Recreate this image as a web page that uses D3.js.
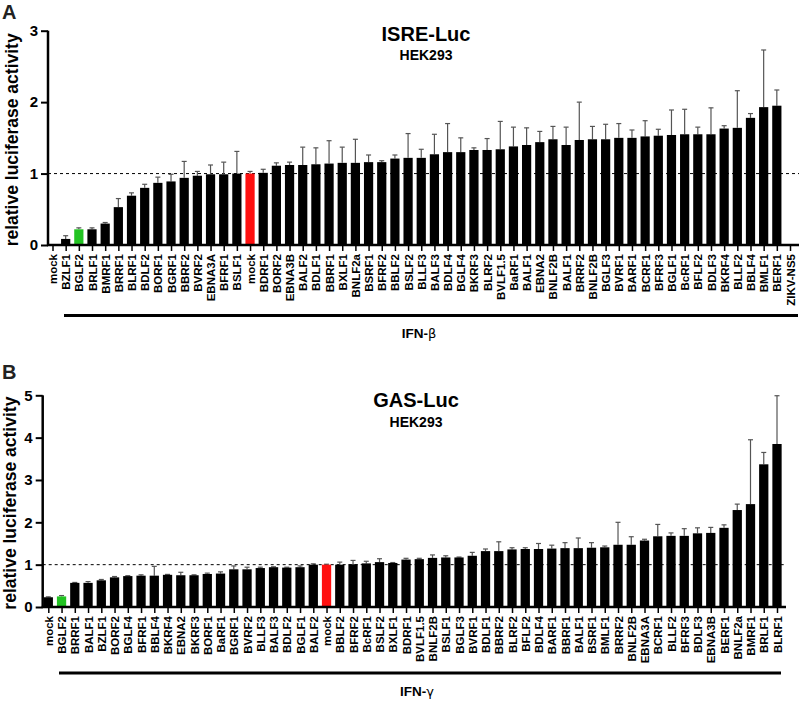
<!DOCTYPE html>
<html>
<head>
<meta charset="utf-8">
<script src="https://cdn.jsdelivr.net/npm/d3@7"></script>
<style>
  html, body { margin: 0; padding: 0; background: #fff; }
  svg { display: block; font-family: "Liberation Sans", Arial, sans-serif; }
</style>
</head>
<body>
<svg id="chart" width="800" height="702"></svg>
<script>
// ---------- Panel A data (ISRE-Luc, IFN-beta) ----------
const labelsA = ["mock","BZLF1","BGLF2","BRLF1","BMRF1","BRRF1","BLRF1","BDLF2","BORF1","BGRF1","BBRF2","BVRF2","EBNA3A","BFRF1","BSLF1","mock","BDRF1","BORF2","EBNA3B","BALF2","BDLF1","BBRF1","BXLF1","BNLF2a","BSRF1","BFRF2","BBLF2","BSLF2","BLLF3","BALF3","BDLF4","BGLF4","BKRF3","BLRF2","BVLF1.5","BaRF1","BALF1","EBNA2","BNLF2B","BALF1","BRRF2","BNLF2B","BGLF3","BVRF1","BARF1","BCRF1","BFRF3","BGLF1","BcRF1","BFLF2","BDLF3","BKRF4","BLLF2","BBLF4","BMLF1","BERF1","ZIKV-NS5"];
const valuesA = [0,0.085,0.22,0.22,0.30,0.53,0.69,0.80,0.87,0.89,0.94,0.97,0.99,0.99,1.00,1.00,1.01,1.11,1.12,1.12,1.13,1.14,1.15,1.15,1.16,1.16,1.21,1.22,1.22,1.27,1.30,1.30,1.33,1.33,1.34,1.38,1.40,1.44,1.48,1.40,1.47,1.48,1.48,1.50,1.50,1.52,1.53,1.54,1.55,1.55,1.55,1.63,1.64,1.78,1.93,1.95,0];
const errA = [0,0.045,0.02,0.02,0.015,0.12,0.04,0.05,0.08,0.10,0.23,0.06,0.13,0.17,0.31,0.03,0.05,0.04,0.04,0.25,0.23,0.32,0.22,0.33,0.10,0.02,0.05,0.34,0.12,0.28,0.40,0.20,0.03,0.16,0.39,0.27,0.24,0.15,0.18,0.25,0.53,0.18,0.21,0.20,0.11,0.22,0.09,0.35,0.35,0.10,0.37,0.04,0.52,0.06,0.80,0.22,0];
const ticksA = [0,1,2,3];

// ---------- Panel B data (GAS-Luc, IFN-gamma) ----------
const labelsB = ["mock","BGLF2","BRRF1","BALF1","BZLF1","BORF2","BGLF4","BFRF1","BBLF4","BKRF4","EBNA2","BKRF3","BORF1","BaRF1","BGRF1","BVRF2","BLLF3","BALF3","BDLF2","BGLF1","BALF2","mock","BBLF2","BFRF2","BcRF1","BSLF2","BXLF1","BDRF1","BVLF1.5","BNLF2B","BSLF1","BGLF3","BVRF1","BDLF1","BBRF2","BLRF2","BFLF2","BDLF4","BARF1","BBRF1","BALF1","BSRF1","BMLF1","BRRF2","BNLF2B","EBNA3A","BCRF1","BLLF2","BFRF3","BDLF3","EBNA3B","BERF1","BNLF2a","BMRF1","BRLF1","BLRF1"];
const valuesB = [0.23,0.25,0.57,0.57,0.63,0.70,0.73,0.74,0.74,0.76,0.75,0.75,0.78,0.79,0.89,0.89,0.92,0.94,0.93,0.94,1.00,1.00,1.00,1.01,1.03,1.06,1.04,1.12,1.13,1.16,1.17,1.17,1.21,1.32,1.32,1.36,1.37,1.37,1.38,1.39,1.39,1.40,1.41,1.47,1.47,1.57,1.67,1.68,1.68,1.74,1.75,1.87,2.29,2.43,3.37,3.85];
const errB = [0.01,0.02,0.01,0.03,0.02,0.02,0.01,0.02,0.22,0.01,0.07,0.01,0.02,0.04,0.08,0.05,0.02,0.01,0.01,0.03,0.02,0.01,0.06,0.09,0.05,0.08,0.01,0.03,0.02,0.07,0.04,0.01,0.08,0.05,0.22,0.04,0.03,0.13,0.08,0.13,0.24,0.12,0.03,0.53,0.19,0.03,0.28,0.07,0.17,0.13,0.13,0.07,0.14,1.52,0.28,1.14];
const ticksB = [0,1,2,3,4,5];

const GREEN = "#22c322", RED = "#ff1010", BLACK = "#000", ERR = "#555";

const svg = d3.select("#chart");

function drawPanel(cfg) {
  const g = svg.append("g");
  const idx = cfg.labels.map((d, i) => i);
  const x = d3.scalePoint().domain(idx).range([cfg.x0, cfg.x1]);
  const y = d3.scaleLinear().domain([0, cfg.ymax]).range([cfg.yBase, cfg.yTop]);
  const bw = x.step() * 0.7;

  // dashed reference line at 1
  g.append("line")
    .attr("x1", cfg.axisX).attr("x2", cfg.axisEnd)
    .attr("y1", y(1)).attr("y2", y(1))
    .attr("stroke", "#000").attr("stroke-width", 1)
    .attr("stroke-dasharray", "3,3");

  // error bars (upper only)
  const eb = g.append("g");
  idx.forEach(i => {
    const v = cfg.values[i], e = cfg.err[i];
    if (e <= 0) return;
    const cx = x(i);
    eb.append("line").attr("x1", cx).attr("x2", cx)
      .attr("y1", y(v)).attr("y2", y(v + e))
      .attr("stroke", ERR).attr("stroke-width", 1.2);
    eb.append("line").attr("x1", cx - 2.5).attr("x2", cx + 2.5)
      .attr("y1", y(v + e)).attr("y2", y(v + e))
      .attr("stroke", ERR).attr("stroke-width", 1.2);
  });

  // bars
  g.append("g").selectAll("rect").data(idx).join("rect")
    .attr("x", i => x(i) - bw / 2)
    .attr("width", bw)
    .attr("y", i => y(cfg.values[i]))
    .attr("height", i => y(0) - y(cfg.values[i]))
    .attr("fill", i => i === cfg.green ? GREEN : (i === cfg.red ? RED : BLACK));

  // x axis
  const xAxis = d3.axisBottom(x).tickSize(6).tickPadding(3)
    .tickFormat(i => cfg.labels[i]);
  const xg = g.append("g").attr("transform", `translate(0,${cfg.yBase})`).call(xAxis);
  xg.select(".domain").remove();
  xg.selectAll(".tick line").attr("stroke", "#000").attr("stroke-width", 1.5);
  xg.selectAll(".tick text")
    .attr("transform", "rotate(-90)")
    .attr("text-anchor", "end")
    .attr("x", -9).attr("y", 0).attr("dy", "0.35em")
    .attr("font-size", 11.5).attr("font-weight", "bold").attr("fill", "#000")
    .attr("font-family", "'Liberation Sans', Arial, sans-serif");
  g.append("line")
    .attr("x1", cfg.axisX - 1).attr("x2", cfg.axisEnd)
    .attr("y1", cfg.yBase).attr("y2", cfg.yBase)
    .attr("stroke", "#000").attr("stroke-width", 2.5);

  // y axis
  const yAxis = d3.axisLeft(y).tickValues(cfg.ticks).tickSize(7).tickPadding(3)
    .tickFormat(d3.format("d"));
  const yg = g.append("g").attr("transform", `translate(${cfg.axisX},0)`).call(yAxis);
  yg.select(".domain").attr("stroke", "#000").attr("stroke-width", 2.5)
    .attr("d", `M0,${cfg.yTop}V${cfg.yBase}`);
  yg.selectAll(".tick line").attr("stroke", "#000").attr("stroke-width", 2);
  yg.selectAll(".tick text")
    .attr("font-size", 15).attr("font-weight", "bold").attr("fill", "#000")
    .attr("font-family", "'Liberation Sans', Arial, sans-serif");

  // y label
  g.append("text")
    .attr("transform", `translate(${cfg.ylabX},${(cfg.yTop + cfg.yBase) / 2 + 2}) rotate(-90)`)
    .attr("text-anchor", "middle")
    .attr("font-size", 17.5).attr("font-weight", "bold")
    .text("relative luciferase activity");

  // panel letter
  g.append("text").attr("x", 2).attr("y", cfg.letterY)
    .attr("font-size", 20).attr("font-weight", "bold").attr("fill", "#222")
    .text(cfg.letter);

  // titles
  g.append("text").attr("x", cfg.titleX).attr("y", cfg.titleY)
    .attr("text-anchor", "middle").attr("font-size", 20).attr("font-weight", "bold")
    .text(cfg.title);
  g.append("text").attr("x", cfg.titleX).attr("y", cfg.titleY + 19.5)
    .attr("text-anchor", "middle").attr("font-size", 14).attr("font-weight", "bold")
    .text("HEK293");

  // bracket
  g.append("line")
    .attr("x1", cfg.brX0).attr("x2", cfg.brX1)
    .attr("y1", cfg.brY).attr("y2", cfg.brY)
    .attr("stroke", "#000").attr("stroke-width", 3.2);
  const t = g.append("text").attr("x", cfg.treatX).attr("y", cfg.treatY)
    .attr("text-anchor", "middle").attr("font-size", 13.5).attr("font-weight", "bold");
  t.append("tspan").text("IFN-");
  t.append("tspan").attr("font-weight", "normal").attr("font-family", "'DejaVu Sans', sans-serif")
    .attr("font-size", 13).text(cfg.greek);
}

drawPanel({
  labels: labelsA, values: valuesA, err: errA, ticks: ticksA, ymax: 3,
  x0: 52.5, x1: 790, yBase: 245, yTop: 30.7, axisX: 48, axisEnd: 799,
  green: 2, red: 15, ylabX: 18, letter: "A", letterY: 19,
  title: "ISRE-Luc", titleX: 426, titleY: 40.5,
  brX0: 64, brX1: 798, brY: 315.5, treatX: 419, treatY: 338, greek: "β"
});

drawPanel({
  labels: labelsB, values: valuesB, err: errB, ticks: ticksB, ymax: 5,
  x0: 48.3, x1: 777, yBase: 607, yTop: 395.3, axisX: 42.7, axisEnd: 786,
  green: 1, red: 21, ylabX: 15.5, letter: "B", letterY: 379,
  title: "GAS-Luc", titleX: 416, titleY: 407,
  brX0: 59, brX1: 781, brY: 673, treatX: 417, treatY: 696, greek: "γ"
});
</script>
</body>
</html>
